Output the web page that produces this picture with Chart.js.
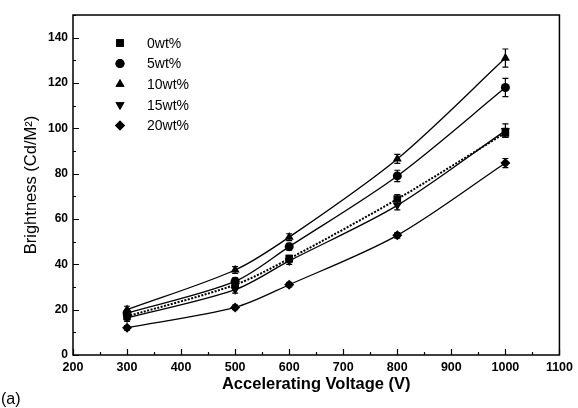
<!DOCTYPE html>
<html>
<head>
<meta charset="utf-8">
<script src="https://cdn.jsdelivr.net/npm/chart.js@4"></script>
<style>
  html,body{margin:0;padding:0;background:#fff}
  #wrap{width:578px;height:408px}
</style>
</head>
<body>
<div id="wrap"><canvas id="c" width="578" height="408"></canvas></div>
<script>
// accelerating voltage (V)
const voltage=[300,500,600,800,1000]
const labels=['0wt%','5wt%','10wt%','15wt%','20wt%']
// brightness (Cd/M2)
const b0=[17,31,42.5,68.8,98]
const b5=[18.5,32.5,47.8,79,118]
const b10=[20,37.5,52,86.5,131]
const b15=[16.3,28.8,41.5,66,99]
const b20=[12,21,31,52.8,84.7]
// error bar half heights
const e0=[1.5,1.5,1.5,2,2]
const e5=[1.5,1.5,1.5,2.5,4]
const e10=[1.5,1.5,1.5,2,4]
const e15=[1.5,1.5,1.5,2,3]
const e20=[1,1,1,1.2,2]
const xTicks=[200,300,400,500,600,700,800,900,1000,1100]
const yTicks=[0,20,40,60,80,100,120,140]

const FONT='"Liberation Sans", Arial, sans-serif'
const series=[
    {label:labels[0],y:b0,err:e0,style:'rect',rot:0,r:5.4,dash:[2,1.5],width:2},
    {label:labels[1],y:b5,err:e5,style:'circle',rot:0,r:4.5,dash:[],width:1.3},
    {label:labels[2],y:b10,err:e10,style:'triangle',rot:0,r:5.2,dash:[],width:1.3},
    {label:labels[3],y:b15,err:e15,style:'triangle',rot:180,r:5.2,dash:[],width:1.3},
    {label:labels[4],y:b20,err:e20,style:'rectRot',rot:0,r:5,dash:[],width:1.3}
]

function points(ys){
    return voltage.map((v,i)=>({x:v,y:ys[i]}))
}

const datasets=series.map(s=>({
    label:s.label,
    data:points(s.y),
    borderColor:'#000',
    backgroundColor:'#000',
    borderWidth:s.width,
    borderDash:s.dash,
    pointStyle:s.style,
    rotation:s.rot,
    pointRadius:s.r,
    pointBorderWidth:0,
    pointBackgroundColor:'#000',
    tension:0.3,
    fill:false
}))

// frame, inward ticks, error bars, legend and panel letter
const decorations={
    id:'decorations',
    afterDatasetsDraw(chart){
        const ctx=chart.ctx
        const {left,right,top,bottom}=chart.chartArea
        const xs=chart.scales.x
        const ys=chart.scales.y
        ctx.save()
        ctx.strokeStyle='#000'
        ctx.lineWidth=1.2
        // error bars
        series.forEach(s=>{
            s.y.forEach((v,i)=>{
                const px=xs.getPixelForValue(voltage[i])
                const hi=ys.getPixelForValue(v+s.err[i])
                const lo=ys.getPixelForValue(v-s.err[i])
                ctx.beginPath()
                ctx.moveTo(px,hi);ctx.lineTo(px,lo)
                ctx.moveTo(px-3,hi);ctx.lineTo(px+3,hi)
                ctx.moveTo(px-3,lo);ctx.lineTo(px+3,lo)
                ctx.stroke()
            })
        })
        // frame
        ctx.lineWidth=1.5
        ctx.strokeRect(left,top,right-left,bottom-top)
        // ticks
        ctx.lineWidth=1.2
        ctx.beginPath()
        for(let v=200;v<=1100;v+=50){
            const px=Math.round(xs.getPixelForValue(v))+0.5
            const len=v%100===0?6:3
            ctx.moveTo(px,bottom);ctx.lineTo(px,bottom-len)
        }
        for(let v=0;v<=150;v+=10){
            const py=Math.round(ys.getPixelForValue(v))+0.5
            const len=v%20===0?6:3
            ctx.moveTo(left,py);ctx.lineTo(left+len,py)
        }
        ctx.stroke()
        // legend
        ctx.fillStyle='#000'
        ctx.font='14px '+FONT
        ctx.textBaseline='middle'
        series.forEach((s,i)=>{
            const ly=top+28+i*20.6
            const opts={pointStyle:s.style,rotation:s.rot,radius:s.r,borderWidth:0}
            Chart.helpers.drawPoint(ctx,opts,left+47,ly)
            ctx.fill()
            ctx.fillText(s.label,left+74,ly+1)
        })
        // panel letter
        ctx.font='16px '+FONT
        ctx.textBaseline='alphabetic'
        ctx.fillText('(a)',1,404)
        ctx.restore()
    }
}

new Chart(document.getElementById('c'),{
    type:'line',
    data:{datasets},
    options:{
        responsive:false,
        animation:false,
        layout:{padding:{left:0,right:15,top:15,bottom:0}},
        plugins:{legend:{display:false},tooltip:{enabled:false}},
        scales:{
            x:{
                type:'linear',
                min:200,max:1100,
                afterBuildTicks(scale){scale.ticks=xTicks.map(v=>({value:v}))},
                afterFit(scale){scale.height=53},
                grid:{display:false,drawTicks:false},
                border:{display:false},
                ticks:{color:'#000',padding:5,maxRotation:0,callback:v=>String(v),
                    font:{family:FONT,size:12.5,weight:'bold'}},
                title:{display:true,text:'Accelerating Voltage (V)',color:'#000',
                    font:{family:FONT,size:16.5,weight:'bold'},padding:{top:0,bottom:14}}
            },
            y:{
                min:0,max:150,
                afterBuildTicks(scale){scale.ticks=yTicks.map(v=>({value:v}))},
                afterFit(scale){scale.width=73},
                grid:{display:false,drawTicks:false},
                border:{display:false},
                ticks:{color:'#000',padding:5,callback:v=>String(v),
                    font:{family:FONT,size:12,weight:'bold'}},
                title:{display:true,text:'Brightness (Cd/M\u00B2)',color:'#000',
                    font:{family:FONT,size:16.5},padding:{top:22,bottom:0}}
            }
        }
    },
    plugins:[decorations]
})
</script>
</body>
</html>
